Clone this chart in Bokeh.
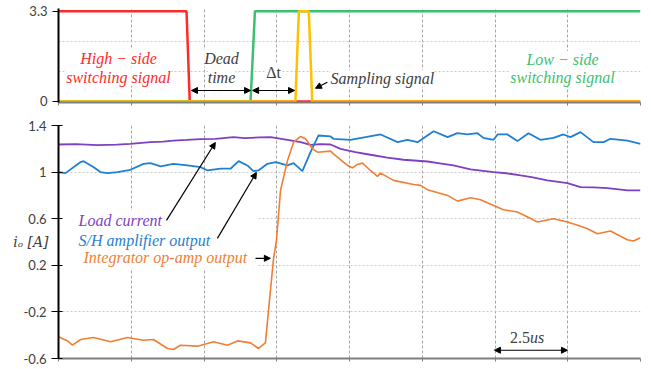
from bokeh.plotting import figure
from bokeh.layouts import column
from bokeh.models import FixedTicker, Label, Arrow, NormalHead, Range1d, BoxAnnotation
from bokeh.embed import file_html
from bokeh.resources import INLINE

# ---------------- data ----------------
# top panel: gate / sampling signals (time in us, level in V)
hs_t = [0.0, 4.40, 4.51, 20.0]
hs_v = [3.3, 3.3, 0.0, 0.0]
ls_t = [0.0, 6.60, 6.75, 20.0]
ls_v = [0.0, 0.0, 3.3, 3.3]
smp_t = [0.0, 8.14, 8.26, 8.60, 8.72, 20.0]
smp_v = [0.0, 0.0, 3.3, 3.3, 0.0, 0.0]

# bottom panel: currents (time in us, current in A)
load_t = [0.0, 0.6, 1.34, 2.0, 2.47, 3.16, 3.6, 3.95, 4.4, 4.88, 5.4, 6.01, 6.4, 6.9, 7.29,
          7.87, 8.32, 8.66, 9.0, 9.35, 9.69, 10.2, 10.72, 11.3, 11.86, 12.68, 13.1, 13.57,
          14.16, 14.95, 15.4, 15.88, 16.3, 16.80, 17.49, 17.94, 18.4, 18.87, 19.55, 20.0]
load_v = [1.237, 1.240, 1.231, 1.236, 1.243, 1.257, 1.262, 1.271, 1.276, 1.283, 1.285, 1.300,
          1.291, 1.298, 1.300, 1.277, 1.257, 1.234, 1.240, 1.237, 1.200, 1.172, 1.149, 1.125,
          1.106, 1.091, 1.075, 1.057, 1.023, 1.000, 0.990, 0.971, 0.955, 0.929, 0.906, 0.871,
          0.869, 0.863, 0.843, 0.843]

sh_t = [0.0, 0.24, 0.76, 0.86, 1.20, 1.44, 1.68, 2.03, 2.47, 2.92, 3.16, 3.51, 3.95, 4.43,
        4.88, 5.12, 5.57, 5.91, 6.19, 6.49, 6.70, 6.87, 7.18, 7.46, 7.87, 8.08, 8.38, 8.66,
        8.93, 9.35, 9.45, 10.03, 11.07, 11.65, 11.99, 12.34, 12.89, 13.37, 13.71, 14.05,
        14.40, 14.60, 14.95, 15.09, 15.43, 15.77, 16.15, 16.56, 17.01, 17.35, 17.59, 17.94,
        18.38, 18.73, 18.97, 19.55, 20.0]
sh_v = [1.000, 0.991, 1.086, 1.094, 1.043, 1.000, 0.991, 1.000, 1.020, 1.071, 1.077, 1.049,
        1.071, 1.057, 1.043, 1.014, 1.029, 1.029, 1.094, 1.057, 1.009, 1.014, 1.071, 1.086,
        1.057, 1.077, 1.009, 1.171, 1.314, 1.306, 1.286, 1.277, 1.323, 1.257, 1.277, 1.257,
        1.351, 1.300, 1.334, 1.323, 1.334, 1.294, 1.277, 1.323, 1.323, 1.266, 1.334, 1.277,
        1.294, 1.323, 1.300, 1.343, 1.257, 1.257, 1.286, 1.271, 1.243]

int_t = [0.0, 0.31, 0.48, 0.76, 1.20, 1.79, 2.37, 2.92, 3.26, 3.75, 3.95, 4.19, 4.78, 5.33,
         5.81, 6.15, 6.60, 6.87, 7.11, 7.39, 7.49, 7.63, 7.87, 8.08, 8.32, 8.49, 8.73, 8.90,
         9.35, 9.45, 9.93, 10.10, 10.27, 10.45, 10.72, 10.96, 11.07, 11.51, 12.20, 12.44,
         12.68, 13.37, 13.71, 14.16, 14.50, 14.95, 15.29, 15.77, 16.12, 16.46, 17.01, 17.49,
         17.84, 18.18, 18.52, 18.97, 19.31, 19.55, 19.76, 20.0]
int_v = [-0.414, -0.449, -0.486, -0.437, -0.420, -0.457, -0.420, -0.443, -0.437, -0.514,
         -0.523, -0.486, -0.494, -0.457, -0.486, -0.449, -0.466, -0.514, -0.466, 0.260,
         0.414, 0.843, 1.100, 1.257, 1.306, 1.286, 1.200, 1.171, 1.180, 1.157, 1.057, 1.037,
         1.066, 1.077, 1.014, 0.963, 0.991, 0.929, 0.894, 0.886, 0.849, 0.800, 0.751, 0.780,
         0.763, 0.714, 0.677, 0.657, 0.614, 0.571, 0.600, 0.571, 0.543, 0.514, 0.471, 0.494,
         0.449, 0.420, 0.409, 0.437]

x_ticks = [0, 2.5, 5, 7.5, 10, 12.5, 15, 17.5, 20]
top_ticks = [0, 3.3]
top_labels = ["0", "3.3"]
top_grid = [1.1, 2.2]
bot_ticks = [-0.6, -0.2, 0.2, 0.6, 1.0, 1.4]
bot_labels = ["-0.6", "-0.2", "0.2", "0.6", "1", "1.4"]
y_title = "i\u2092 [A]"

RED = "#FF2A2A"
GREEN = "#3DBF72"
YELLOW = "#FFC000"
PURPLE = "#7F3FBF"
BLUE = "#1F7FD2"
ORANGE = "#F07F35"
DARK = "#404040"
SERIF = "Liberation Serif"
TICKF = "Lato"


def style(p, yt, yl, ygrid):
    p.outline_line_color = None
    # x axis: tick marks only (as minor ticks), no labels
    p.xaxis.ticker = FixedTicker(ticks=[], minor_ticks=x_ticks)
    p.xaxis.major_label_standoff = 0
    p.xaxis.major_tick_out = 0
    p.xaxis.major_tick_in = 0
    p.xaxis.axis_line_color = "#7F7F7F"
    p.xaxis.axis_line_width = 2
    p.xaxis.minor_tick_line_color = "#7F7F7F"
    p.xaxis.minor_tick_out = 3
    p.xaxis.minor_tick_in = 0
    p.yaxis.ticker = FixedTicker(ticks=yt)
    p.yaxis.major_label_overrides = {t: l for t, l in zip(yt, yl)}
    p.yaxis.major_label_text_font = TICKF
    p.yaxis.major_label_text_font_size = "13px"
    p.yaxis.major_label_text_color = DARK
    p.yaxis.axis_line_color = "black"
    p.yaxis.axis_line_width = 2
    p.yaxis.major_tick_line_color = "black"
    p.yaxis.minor_tick_line_color = None
    p.xgrid.ticker = FixedTicker(ticks=x_ticks[1:])
    p.xgrid.grid_line_color = "#A6A6A6"
    p.xgrid.grid_line_dash = "3 2"
    p.ygrid.ticker = FixedTicker(ticks=ygrid)
    p.ygrid.grid_line_color = "#C8C8C8"
    p.ygrid.grid_line_dash = "2 2"


def lab(p, x, y, text, color, align="center", size="16px", style_="italic", bg=None):
    p.add_layout(Label(x=x, y=y, text=text, text_color=color, text_font=SERIF,
                       text_font_size=size, text_font_style=style_, text_align=align,
                       text_baseline="middle", background_fill_color=bg))


def arrow(p, x0, y0, x1, y1, double=False):
    head = dict(size=6, fill_color="black", line_color="black")
    p.add_layout(Arrow(x_start=x0, y_start=y0, x_end=x1, y_end=y1,
                       end=NormalHead(**head),
                       start=NormalHead(**head) if double else None,
                       line_color="black", line_width=1.2))


# ---------------- top panel ----------------
p1 = figure(width=648, height=112, x_range=Range1d(0, 20), y_range=Range1d(-0.04, 3.4),
            output_backend="svg", toolbar_location=None,
            min_border_left=58, min_border_right=8, min_border_top=8, min_border_bottom=10)
style(p1, top_ticks, top_labels, top_grid)
p1.yaxis.major_tick_out = 6
p1.yaxis.major_tick_in = 0

p1.line(hs_t, hs_v, color=RED, line_width=2.5)
p1.line(ls_t, ls_v, color=GREEN, line_width=2.5)
p1.line(smp_t, smp_v, color=YELLOW, line_width=2.5)

lab(p1, 2.06, 1.58, "High \u2212 side", RED, bg="white")
lab(p1, 2.06, 0.88, "switching signal", RED, bg="white")
lab(p1, 5.60, 1.58, "Dead", DARK, bg="white")
lab(p1, 5.60, 0.88, "time", DARK, bg="white")
lab(p1, 7.39, 1.06, "\u0394t", DARK, style_="normal", bg="white")
lab(p1, 9.35, 0.84, "Sampling signal", DARK, align="left", bg="white")
lab(p1, 17.32, 1.54, "Low \u2212 side", GREEN, bg="white")
lab(p1, 17.32, 0.88, "switching signal", GREEN, bg="white")
arrow(p1, 4.57, 0.40, 6.60, 0.40, double=True)
arrow(p1, 6.67, 0.40, 8.11, 0.40, double=True)
arrow(p1, 9.24, 0.70, 8.83, 0.48)

# ---------------- bottom panel ----------------
p2 = figure(width=648, height=254, x_range=Range1d(0, 20), y_range=Range1d(-0.6, 1.4),
            output_backend="svg", toolbar_location=None,
            min_border_left=58, min_border_right=8, min_border_top=13, min_border_bottom=8)
style(p2, bot_ticks, bot_labels, bot_ticks)
p2.yaxis.major_tick_out = 7
p2.yaxis.major_tick_in = 4
p2.yaxis.axis_label = y_title
p2.yaxis.axis_label_orientation = "horizontal"
p2.yaxis.axis_label_text_font = "DejaVu Serif"
p2.yaxis.axis_label_text_font_style = "italic"
p2.yaxis.axis_label_text_font_size = "14px"
p2.yaxis.axis_label_text_color = DARK
p2.yaxis.axis_label_standoff = -28

p2.add_layout(BoxAnnotation(left=0, right=6.87, bottom=0.174, top=0.671, fill_color="white",
                            fill_alpha=1.0, line_color=None, level="underlay"))

p2.line(load_t, load_v, color=PURPLE, line_width=1.8)
p2.line(sh_t, sh_v, color=BLUE, line_width=1.8)
p2.line(int_t, int_v, color=ORANGE, line_width=1.6)

lab(p2, 0.69, 0.586, "Load current", PURPLE, align="left")
lab(p2, 0.69, 0.414, "S/H amplifier output", BLUE, align="left")
lab(p2, 0.86, 0.269, "Integrator  op-amp output", ORANGE, align="left")
arrow(p2, 6.77, 0.26, 7.28, 0.26)
arrow(p2, 3.71, 0.586, 5.39, 1.254)
arrow(p2, 5.46, 0.431, 6.80, 0.997)

lab(p2, 16.20, -0.417, "2.5", DARK, align="right", style_="normal")
lab(p2, 16.20, -0.417, "us", DARK, align="left")
arrow(p2, 14.98, -0.529, 17.49, -0.529, double=True)

layout = column(p1, p2, spacing=0)
open("out.html", "w").write(file_html(layout, INLINE))
